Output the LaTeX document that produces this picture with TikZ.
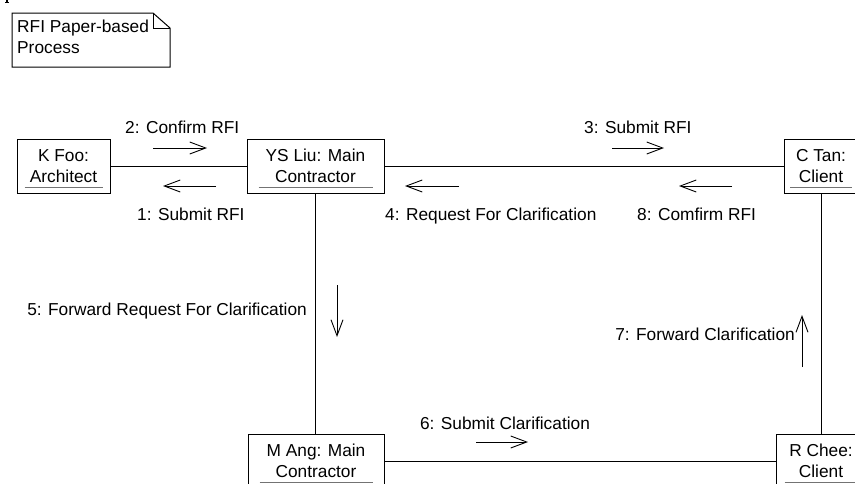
\documentclass[tikz,border=0pt]{standalone}
\usepackage{fontspec}
\setmainfont{Liberation Sans}
\usetikzlibrary{arrows.meta,calc}
\definecolor{ulgray}{gray}{0.45}
\begin{document}
\begin{tikzpicture}[x=1pt,y=-1pt,
  every node/.style={font=\fontsize{17.3pt}{21pt}\selectfont, inner sep=0pt},
  obj/.style={draw, line width=1pt, align=center, minimum height=54pt},
  uline/.style={draw=ulgray, line width=1.7pt},
  conn/.style={line width=1pt},
  msg/.style={line width=0.9pt, -{Straight Barb[length=16pt,width=12pt,line width=0.9pt]}},
  notebox/.style={line width=1pt}
]
\useasboundingbox (0,0) rectangle (855,483);

% stray glyph fragment at top-left
\fill (6.2,0) rectangle (7.8,2.2);
\fill (4.8,2.2) rectangle (9.2,3.2);

% note
\draw[notebox] (12,13) -- (153,13) -- (170,28) -- (170,67) -- (12,67) -- cycle;
\draw[notebox] (153,13) -- (153,28) -- (170,28);
\node[anchor=base west] (note1) at (17,32) {RFI Paper-based};
\node[anchor=base west] (note2) at (17,53) {Process};

% objects
\node[obj, minimum width=93pt] (kfoo) at (63.5,166) {K Foo:\\Architect};
\node[obj, minimum width=137pt] (ysliu) at (315.5,166) {YS Liu: Main\\Contractor};
\node[obj, minimum width=74pt] (ctan) at (821,166) {C Tan:\\Client};
\node[obj, minimum width=136pt] (mang) at (316,461) {M Ang: Main\\Contractor};
\node[obj, minimum width=90pt] (rchee) at (821,461) {R Chee:\\Client};

% underlines
\draw[uline] ($(kfoo.south west)+(8,-6)$) -- ($(kfoo.south east)+(-8,-6)$);
\draw[uline] ($(ysliu.south west)+(12,-6)$) -- ($(ysliu.south east)+(-12,-6)$);
\draw[uline] ($(ctan.south west)+(6.5,-6)$) -- ($(ctan.south east)+(-6.5,-6)$);
\draw[uline] ($(mang.south west)+(12,-6)$) -- ($(mang.south east)+(-12,-6)$);
\draw[uline] ($(rchee.south west)+(9,-6)$) -- ($(rchee.south east)+(-9,-6)$);

% links
\draw[conn] (kfoo.east) -- (ysliu.west);
\draw[conn] (ysliu.east) -- (ctan.west);
\draw[conn] (ysliu.south) -- (ysliu.south |- mang.north);
\draw[conn] (ctan.south) -- (ctan.south |- rchee.north);
\draw[conn] (mang.east) -- (rchee.west);

% message arrows
\coordinate (a2s) at (153,148); \coordinate (a2e) at (207,148);
\coordinate (a1s) at (216,186); \coordinate (a1e) at (163,186);
\coordinate (a3s) at (612,148); \coordinate (a3e) at (664,148);
\coordinate (a4s) at (459,186); \coordinate (a4e) at (405,186);
\coordinate (a8s) at (732,186); \coordinate (a8e) at (679,186);
\coordinate (a5s) at (337,285); \coordinate (a5e) at (337,337);
\coordinate (a7s) at (802,367); \coordinate (a7e) at (802,315);
\coordinate (a6s) at (476,442); \coordinate (a6e) at (528,442);
\draw[msg] (a2s) -- (a2e);
\draw[msg] (a1s) -- (a1e);
\draw[msg] (a3s) -- (a3e);
\draw[msg] (a4s) -- (a4e);
\draw[msg] (a8s) -- (a8e);
\draw[msg] (a5s) -- (a5e);
\draw[msg] (a7s) -- (a7e);
\draw[msg] (a6s) -- (a6e);

% message labels
\node[anchor=base west] (l2) at (125,133) {2: Confirm RFI};
\node[anchor=base west] (l1) at (137,220) {1: Submit RFI};
\node[anchor=base west] (l3) at (584,133) {3: Submit RFI};
\node[anchor=base west] (l4) at (385,220) {4: Request For Clarification};
\node[anchor=base west] (l8) at (637,220) {8: Comfirm RFI};
\node[anchor=base east] (l5) at (307,315) {5: Forward Request For Clarification};
\node[anchor=base east] (l7) at (795,340) {7: Forward Clarification};
\node[anchor=base] (l6) at (505,429) {6: Submit Clarification};
\end{tikzpicture}
\end{document}
